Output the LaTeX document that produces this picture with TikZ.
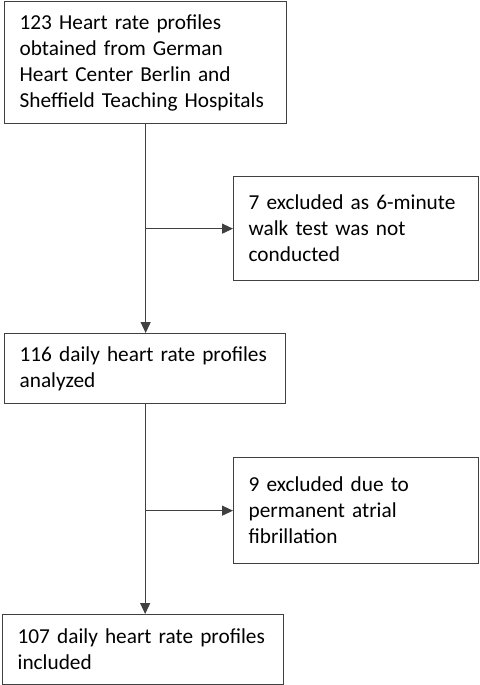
\documentclass[tikz,border=0pt]{standalone}
\usepackage{fontspec}
\setmainfont{Carlito}
\usetikzlibrary{arrows.meta}

\begin{document}
\begin{tikzpicture}[x=1pt,y=-1pt,>={Triangle[length=11pt,width=10pt]},
        font=\fontsize{21.3}{26}\selectfont]
            \useasboundingbox (0,0) rectangle (479,685);
            \begin{scope}[every node/.style={draw=black!75,line width=1.3pt,anchor=north west,align=left,inner xsep=15pt,inner ysep=0pt}]
                \node[text width=252pt,minimum height=122pt] (profiles) at (4,1) {123 Heart rate profiles\\obtained from German\\Heart Center Berlin and\\Sheffield Teaching Hospitals};
                \node[text width=215pt,minimum height=104pt] (excl1) at (233,176) {7 excluded as 6-minute\\walk test was not\\conducted};
                \node[text width=251pt,minimum height=70pt] (analyzed) at (4,333) {116 daily heart rate profiles\\analyzed};
                \node[text width=215pt,minimum height=106pt] (excl2) at (233,457) {9 excluded due to\\permanent atrial\\fibrillation\\[7pt]};
                \node[text width=251pt,minimum height=70pt] (included) at (2,614) {107 daily heart rate profiles\\included};
            \end{scope}
            \begin{scope}[draw=black!75,line width=1.2pt]
                \draw[->] (profiles.south) -- (profiles.south |- analyzed.north);
                \draw[->] (profiles.south |- excl1.west) -- (excl1.west);
                \draw[->] (analyzed.south) -- (analyzed.south |- included.north);
                \draw[->] (analyzed.south |- excl2.west) -- (excl2.west);
            \end{scope}
        \end{tikzpicture}
\end{document}
